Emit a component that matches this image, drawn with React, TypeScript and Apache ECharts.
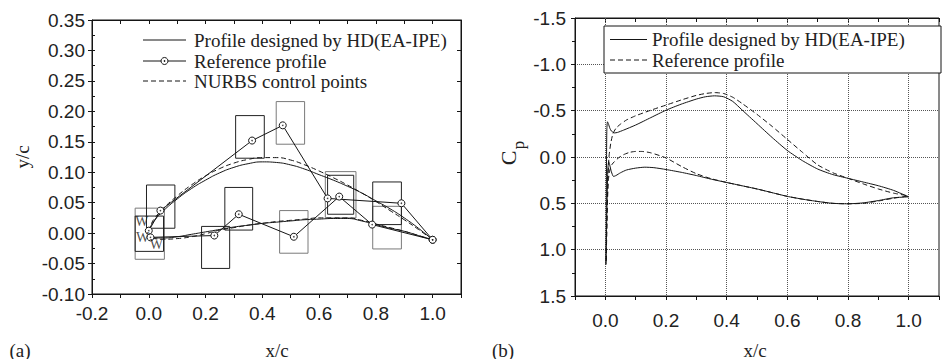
import React, { useEffect, useRef } from "react";
import * as echarts from "echarts";

// ---------- (a) geometry ----------
const hdUpper = [
  [0, 0.003], [0.01, 0.014], [0.02, 0.021], [0.05, 0.036], [0.1, 0.056], [0.15, 0.073],
  [0.2, 0.087], [0.25, 0.099], [0.3, 0.108], [0.35, 0.114], [0.4, 0.117], [0.45, 0.116],
  [0.5, 0.112], [0.55, 0.105], [0.6, 0.096], [0.65, 0.087], [0.7, 0.077], [0.75, 0.066],
  [0.8, 0.053], [0.85, 0.04], [0.9, 0.025], [0.95, 0.008], [1.0, -0.011],
];
const hdLower = [
  [0, 0.003], [0.005, -0.004], [0.02, -0.008], [0.05, -0.008], [0.1, -0.006], [0.15, -0.002],
  [0.2, 0.002], [0.25, 0.006], [0.3, 0.01], [0.35, 0.013], [0.4, 0.016], [0.45, 0.018],
  [0.5, 0.02], [0.55, 0.022], [0.6, 0.023], [0.65, 0.024], [0.7, 0.024], [0.75, 0.02],
  [0.8, 0.014], [0.85, 0.008], [0.9, 0.003], [0.95, -0.004], [1.0, -0.011],
];
const nurbsUpper = [
  [0, 0.003], [0.01, 0.016], [0.02, 0.024], [0.05, 0.04], [0.1, 0.061], [0.15, 0.079],
  [0.2, 0.094], [0.25, 0.106], [0.3, 0.115], [0.35, 0.121], [0.4, 0.124], [0.45, 0.124],
  [0.5, 0.12], [0.55, 0.112], [0.6, 0.102], [0.65, 0.091], [0.7, 0.079], [0.75, 0.066],
  [0.8, 0.052], [0.85, 0.037], [0.9, 0.022], [0.95, 0.006], [1.0, -0.011],
];
const nurbsLower = [
  [0, 0.003], [0.005, -0.005], [0.02, -0.009], [0.05, -0.01], [0.1, -0.009], [0.15, -0.006],
  [0.2, -0.001], [0.25, 0.005], [0.3, 0.009], [0.35, 0.013], [0.4, 0.016], [0.45, 0.019],
  [0.5, 0.021], [0.55, 0.023], [0.6, 0.025], [0.65, 0.025], [0.7, 0.025], [0.75, 0.021],
  [0.8, 0.015], [0.85, 0.009], [0.9, 0.003], [0.95, -0.004], [1.0, -0.011],
];
const refUpper = [
  [0.0, 0.004], [0.041, 0.037], [0.364, 0.152], [0.472, 0.177], [0.63, 0.057], [0.89, 0.049], [1.0, -0.011],
];
const refLower = [
  [0.006, -0.007], [0.231, -0.004], [0.317, 0.031], [0.511, -0.006], [0.671, 0.06], [0.787, 0.014], [1.0, -0.011],
];
// boxes: [xMin, yMin, xMax, yMax]
const boxesBlack = [
  [-0.048, -0.03, 0.052, 0.028],
  [-0.008, 0.008, 0.092, 0.079],
  [0.186, -0.058, 0.285, 0.011],
  [0.268, 0.005, 0.366, 0.075],
  [0.306, 0.123, 0.407, 0.193],
  [0.63, 0.031, 0.722, 0.095],
  [0.789, 0.014, 0.89, 0.084],
];
const boxesGray = [
  [-0.048, -0.043, 0.055, 0.041],
  [0.449, 0.146, 0.549, 0.216],
  [0.461, -0.033, 0.561, 0.037],
  [0.622, 0.025, 0.73, 0.101],
  [0.789, -0.026, 0.89, 0.044],
];
const wMarks = [
  [-0.024, 0.019], [-0.022, -0.007], [0.027, -0.019],
];

// ---------- (b) pressure coefficient ----------
const cpHdUpper = [
  [0.002, 1.16], [0.003, 0.6], [0.004, 0.0], [0.005, -0.3], [0.007, -0.38], [0.01, -0.36],
  [0.015, -0.31], [0.02, -0.28], [0.03, -0.26], [0.04, -0.265], [0.06, -0.29], [0.1, -0.345],
  [0.15, -0.425], [0.2, -0.505], [0.25, -0.57], [0.3, -0.625], [0.33, -0.65], [0.36, -0.66],
  [0.39, -0.65], [0.42, -0.6], [0.45, -0.51], [0.5, -0.36], [0.55, -0.21], [0.6, -0.07],
  [0.65, 0.04], [0.7, 0.13], [0.75, 0.19], [0.8, 0.23], [0.85, 0.27], [0.9, 0.31],
  [0.95, 0.36], [1.0, 0.43],
];
const cpHdLower = [
  [0.002, 1.16], [0.005, 0.6], [0.008, 0.15], [0.011, 0.05], [0.014, 0.08], [0.02, 0.16],
  [0.027, 0.21], [0.035, 0.2], [0.05, 0.17], [0.07, 0.14], [0.1, 0.12], [0.13, 0.11],
  [0.16, 0.115], [0.2, 0.135], [0.25, 0.165], [0.3, 0.2], [0.35, 0.24], [0.4, 0.275],
  [0.45, 0.31], [0.5, 0.345], [0.55, 0.385], [0.6, 0.425], [0.65, 0.455], [0.7, 0.48],
  [0.75, 0.5], [0.8, 0.505], [0.85, 0.495], [0.9, 0.47], [0.95, 0.44], [1.0, 0.43],
];
const cpRefUpper = [
  [0.003, 1.12], [0.005, 0.7], [0.008, 0.3], [0.012, 0.0], [0.018, -0.15], [0.025, -0.25],
  [0.035, -0.31], [0.05, -0.355], [0.07, -0.4], [0.1, -0.445], [0.15, -0.505], [0.2, -0.56],
  [0.25, -0.615], [0.3, -0.665], [0.33, -0.685], [0.36, -0.695], [0.39, -0.685], [0.42, -0.645],
  [0.45, -0.58], [0.5, -0.46], [0.55, -0.33], [0.6, -0.19], [0.65, -0.05], [0.7, 0.085],
  [0.75, 0.17], [0.8, 0.23], [0.85, 0.29], [0.9, 0.345], [0.95, 0.39], [1.0, 0.42],
];
const cpRefLower = [
  [0.003, 1.12], [0.006, 0.6], [0.01, 0.25], [0.015, 0.14], [0.022, 0.08], [0.03, 0.05],
  [0.045, 0.005], [0.06, -0.025], [0.08, -0.05], [0.1, -0.06], [0.12, -0.06], [0.15, -0.045],
  [0.2, 0.01], [0.25, 0.1], [0.3, 0.18], [0.35, 0.235], [0.4, 0.275], [0.45, 0.31],
  [0.5, 0.345], [0.55, 0.385], [0.6, 0.425], [0.65, 0.455], [0.7, 0.48], [0.75, 0.5],
  [0.8, 0.505], [0.85, 0.5], [0.9, 0.475], [0.95, 0.445], [1.0, 0.42],
];
const cpGridX = [0, 0.2, 0.4, 0.6, 0.8, 1.0];

const legendA = ["Profile designed by HD(EA-IPE)", "Reference profile", "NURBS control points"];
const legendB = ["Profile designed by HD(EA-IPE)", "Reference profile"];

const INK = "#151515";
const SANS = "'Liberation Sans', Arial, sans-serif";
const SERIF = "'Liberation Serif', 'Times New Roman', serif";

const evenLabel = (v: number) => {
  const k = Math.round(v * 10);
  return k % 2 === 0 ? (k / 10).toFixed(1) : "";
};

const boxRender = (color: string) => (params: any, api: any) => {
  const p1 = api.coord([api.value(0), api.value(3)]);
  const p2 = api.coord([api.value(2), api.value(1)]);
  return {
    type: "rect",
    shape: { x: p1[0], y: p1[1], width: p2[0] - p1[0], height: p2[1] - p1[1] },
    style: { fill: "none", stroke: color, lineWidth: 1 },
  };
};

export default function App() {
  const ref = useRef<HTMLDivElement>(null);
  useEffect(() => {
    if (!ref.current) return;
    const chart = echarts.init(ref.current, null, { renderer: "svg" });
    const axisLine = { show: true, onZero: false, lineStyle: { color: INK, width: 1 } };
    const lineBase = (data: number[][], xi: number, yi: number, dashed: boolean, smooth: any) => ({
      type: "line",
      xAxisIndex: xi,
      yAxisIndex: yi,
      data,
      smooth,
      symbol: "none",
      lineStyle: { color: INK, width: 1, type: dashed ? [5, 3] : "solid" },
      z: 3,
    });
    const option: any = {
      animation: false,
      grid: [
        { left: 92, top: 20, width: 369, height: 274, show: true, borderColor: INK, borderWidth: 1, backgroundColor: "transparent" },
        { left: 575, top: 18, width: 374, height: 278, show: true, borderColor: INK, borderWidth: 1, backgroundColor: "transparent" },
      ],
      xAxis: [
        {
          gridIndex: 0, type: "value", position: "bottom", min: -0.2, max: 1.1, interval: 0.1,
          axisLine, axisTick: { show: true, inside: false, length: 4, lineStyle: { color: INK } },
          axisLabel: { formatter: evenLabel, fontFamily: SANS, fontSize: 19, color: "#222", margin: 10 },
          splitLine: { show: false },
        },
        {
          gridIndex: 0, type: "value", position: "top", min: -0.2, max: 1.1, interval: 0.1,
          axisLine, axisTick: { show: true, inside: true, length: 4, lineStyle: { color: INK } },
          axisLabel: { show: false }, splitLine: { show: false },
        },
        {
          gridIndex: 1, type: "value", position: "bottom", min: -0.1, max: 1.1, interval: 0.1,
          axisLine, axisTick: { show: true, inside: false, length: 4, lineStyle: { color: INK } },
          axisLabel: { formatter: evenLabel, fontFamily: SANS, fontSize: 19, color: "#222", margin: 15 },
          splitLine: { show: false },
        },
        {
          gridIndex: 1, type: "value", position: "top", min: -0.1, max: 1.1, interval: 0.1,
          axisLine, axisTick: { show: true, inside: true, length: 4, lineStyle: { color: INK } },
          axisLabel: { show: false }, splitLine: { show: false },
        },
      ],
      yAxis: [
        {
          gridIndex: 0, type: "value", position: "left", min: -0.1, max: 0.35, interval: 0.05,
          axisLine, axisTick: { show: true, inside: false, length: 4, lineStyle: { color: INK } },
          axisLabel: { formatter: (v: number) => v.toFixed(2), fontFamily: SANS, fontSize: 19, color: "#222", margin: 7 },
          splitLine: { show: false },
        },
        {
          gridIndex: 0, type: "value", position: "left", min: -0.1, max: 0.35, interval: 0.025,
          axisLine: { show: false, onZero: false }, axisTick: { show: true, inside: true, length: 3, lineStyle: { color: INK } },
          axisLabel: { show: false }, splitLine: { show: false },
        },
        {
          gridIndex: 0, type: "value", position: "right", min: -0.1, max: 0.35, interval: 0.05,
          axisLine, axisTick: { show: true, inside: true, length: 4, lineStyle: { color: INK } },
          axisLabel: { show: false }, splitLine: { show: false },
        },
        {
          gridIndex: 1, type: "value", position: "left", inverse: true, min: -1.5, max: 1.5, interval: 0.5,
          axisLine, axisTick: { show: true, inside: false, length: 4, lineStyle: { color: INK } },
          minorTick: { show: true, splitNumber: 2, length: 3, lineStyle: { color: INK } },
          axisLabel: { formatter: (v: number) => v.toFixed(1), fontFamily: SANS, fontSize: 19, color: "#222", margin: 9 },
          splitLine: { show: true, lineStyle: { color: "#555", width: 1, type: [1, 1] } },
        },
      ],
      series: [
        { type: "custom", xAxisIndex: 0, yAxisIndex: 0, data: boxesGray, renderItem: boxRender("#7a7a7a"), encode: { x: [0, 2], y: [1, 3] }, silent: true, z: 1 },
        { type: "custom", xAxisIndex: 0, yAxisIndex: 0, data: boxesBlack, renderItem: boxRender("#222"), encode: { x: [0, 2], y: [1, 3] }, silent: true, z: 2 },
        lineBase(hdUpper, 0, 0, false, true),
        lineBase(hdLower, 0, 0, false, true),
        lineBase(nurbsUpper, 0, 0, true, true),
        lineBase(nurbsLower, 0, 0, true, true),
        ...[refUpper, refLower].map((d) => ({
          type: "line", xAxisIndex: 0, yAxisIndex: 0, data: d, symbol: "circle", symbolSize: 7,
          itemStyle: { color: "#fff", borderColor: INK, borderWidth: 1 },
          lineStyle: { color: INK, width: 1 }, z: 4,
        })),
        ...[refUpper, refLower].map((d) => ({
          type: "scatter", xAxisIndex: 0, yAxisIndex: 0, data: d, symbol: "circle", symbolSize: 1.6,
          itemStyle: { color: INK }, z: 5, silent: true,
        })),
        {
          type: "scatter", xAxisIndex: 0, yAxisIndex: 0, data: wMarks, symbolSize: 1,
          itemStyle: { color: "rgba(0,0,0,0)" }, z: 6, silent: true,
          label: { show: true, position: "inside", formatter: "W", fontFamily: SERIF, fontSize: 14, color: "#222" },
        },
        {
          ...lineBase(cpHdUpper, 2, 3, false, 0.2),
          markLine: {
            silent: true, symbol: ["none", "none"], label: { show: false },
            lineStyle: { color: "#555", width: 1, type: [1, 1] },
            data: cpGridX.map((v) => ({ xAxis: v })),
            z: 1,
          },
        },
        lineBase(cpHdLower, 2, 3, false, 0.2),
        lineBase(cpRefUpper, 2, 3, true, 0.2),
        lineBase(cpRefLower, 2, 3, true, 0.2),
      ],
      graphic: [
        // legend (a)
        { type: "line", shape: { x1: 143, y1: 40, x2: 186, y2: 40 }, style: { stroke: INK, lineWidth: 1 }, z: 100 },
        { type: "line", shape: { x1: 143, y1: 61, x2: 186, y2: 61 }, style: { stroke: INK, lineWidth: 1 }, z: 100 },
        { type: "circle", shape: { cx: 164.5, cy: 61, r: 3.5 }, style: { fill: "#fff", stroke: INK, lineWidth: 1 }, z: 101 },
        { type: "circle", shape: { cx: 164.5, cy: 61, r: 0.8 }, style: { fill: INK }, z: 102 },
        { type: "line", shape: { x1: 143, y1: 81, x2: 186, y2: 81 }, style: { stroke: INK, lineWidth: 1, lineDash: [5, 3] }, z: 100 },
        ...legendA.map((t, i) => ({
          type: "text", x: 194, y: [40, 61, 81][i], z: 100,
          style: { text: t, font: `19px ${SERIF}`, fill: "#222", verticalAlign: "middle", align: "left" },
        })),
        // legend (b)
        { type: "rect", shape: { x: 604, y: 26, width: 337, height: 47 }, style: { fill: "#fff", stroke: INK, lineWidth: 1 }, z: 100 },
        { type: "line", shape: { x1: 610, y1: 39.5, x2: 647, y2: 39.5 }, style: { stroke: INK, lineWidth: 1 }, z: 101 },
        { type: "line", shape: { x1: 610, y1: 60, x2: 647, y2: 60 }, style: { stroke: INK, lineWidth: 1, lineDash: [5, 3] }, z: 101 },
        ...legendB.map((t, i) => ({
          type: "text", x: 652, y: [39.5, 60][i], z: 101,
          style: { text: t, font: `19px ${SERIF}`, fill: "#222", verticalAlign: "middle", align: "left" },
        })),
        // titles
        { type: "text", x: 277, y: 350, style: { text: "x/c", font: `19px ${SERIF}`, fill: "#222", align: "center", verticalAlign: "middle" } },
        { type: "text", x: 20, y: 350, style: { text: "(a)", font: `19px ${SERIF}`, fill: "#222", align: "center", verticalAlign: "middle" } },
        { type: "text", x: 22.5, y: 157, rotation: Math.PI / 2, style: { text: "y/c", font: `19px ${SERIF}`, fill: "#222", align: "center", verticalAlign: "middle" } },
        { type: "text", x: 755, y: 350, style: { text: "x/c", font: `19px ${SERIF}`, fill: "#222", align: "center", verticalAlign: "middle" } },
        { type: "text", x: 503, y: 350, style: { text: "(b)", font: `19px ${SERIF}`, fill: "#222", align: "center", verticalAlign: "middle" } },
        { type: "text", x: 508, y: 158, rotation: Math.PI / 2, style: { text: "C", font: `22px ${SERIF}`, fill: "#222", align: "center", verticalAlign: "middle" } },
        { type: "text", x: 518, y: 145, rotation: Math.PI / 2, style: { text: "p", font: `17px ${SERIF}`, fill: "#222", align: "center", verticalAlign: "middle" } },
      ],
    };
    chart.setOption(option);
    return () => chart.dispose();
  }, []);
  return <div ref={ref} style={{ position: "fixed", left: 0, top: 0, width: 942, height: 359, background: "#fff" }} />;
}
